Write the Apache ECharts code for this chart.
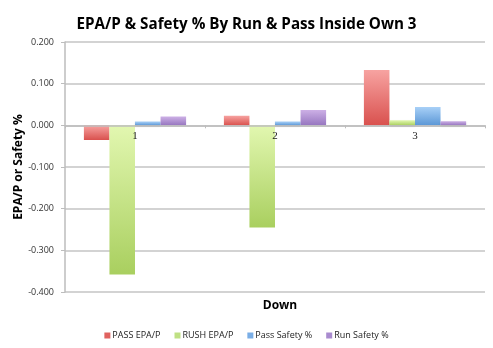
<!DOCTYPE html>
<html><head><meta charset="utf-8">
<script src="https://cdn.jsdelivr.net/npm/echarts@6/dist/echarts.min.js"></script>
<style>html,body{margin:0;padding:0;background:#fff}#c{width:493px;height:348px}</style>
</head><body><div id="c"></div>
<script>
const categories = ['1', '2', '3'];
const passEPA = [-0.035, 0.023, 0.133];
const rushEPA = [-0.358, -0.245, 0.012];
const passSafety = [0.009, 0.009, 0.044];
const runSafety = [0.021, 0.037, 0.010];
const yTicks = { min: -0.4, max: 0.2, interval: 0.1 };

function grad(top, bottom) {
  return new echarts.graphic.LinearGradient(0, 0, 0, 1, [
    { offset: 0, color: top }, { offset: 1, color: bottom }
  ]);
}
const seriesDefs = [
  { name: 'PASS EPA/P', data: passEPA, c: ['#f7a3a1', '#d9514e'], lc: '#e0625f' },
  { name: 'RUSH EPA/P', data: rushEPA, c: ['#e2f7b0', '#a9cf5f'], lc: '#bfe083' },
  { name: 'Pass Safety %', data: passSafety, c: ['#a8d0f7', '#5b97d6'], lc: '#7aaee6' },
  { name: 'Run Safety %', data: runSafety, c: ['#cdb0e6', '#9676bf'], lc: '#a98bcf' }
];
const font = 'Open Sans';
const chart = echarts.init(document.getElementById('c'), null, { renderer: 'canvas' });
const option = {
  animation: false,
  backgroundColor: '#fff',
  title: [
    { text: 'EPA/P & Safety % By Run & Pass Inside Own 3', left: 'center', top: 12,
      textStyle: { fontFamily: font, fontWeight: 'bold', fontSize: 15.2, color: '#000' } },
    { text: 'Down', left: 275, top: 295, textAlign: 'center',
      textStyle: { fontFamily: font, fontWeight: 'bold', fontSize: 12, color: '#000' } }
  ],
  legend: {
    bottom: 3, left: 'center', itemWidth: 6, itemHeight: 6, itemGap: 14,
    icon: 'rect',
    textStyle: { fontFamily: font, fontSize: 9, color: '#222', padding: [0, 0, 0, -3] },
    data: seriesDefs.map(s => ({ name: s.name, itemStyle: { color: s.lc } }))
  },
  grid: { left: 65, right: 8, top: 42, bottom: 56 },
  xAxis: {
    type: 'category', data: categories, offset: 0, z: 10,
    axisLine: { onZero: false, lineStyle: { color: '#bdbdbd', width: 1.5 } },
    axisTick: { show: true, length: 3, lineStyle: { color: '#bdbdbd' } },
    axisLabel: { fontFamily: 'Liberation Serif', fontSize: 11, color: '#222', margin: 5 },
    splitLine: { show: false }
  },
  yAxis: {
    type: 'value', min: yTicks.min, max: yTicks.max, interval: yTicks.interval,
    name: 'EPA/P or Safety %', nameLocation: 'middle', nameGap: 40, nameRotate: 90,
    nameMoveOverlap: false,
    nameTextStyle: { fontFamily: font, fontWeight: 'bold', fontSize: 12, color: '#000' },
    axisLine: { show: true, lineStyle: { color: '#bdbdbd', width: 1.5 } },
    axisTick: { show: true, length: 4, lineStyle: { color: '#bdbdbd' } },
    axisLabel: { fontFamily: font, fontSize: 9, color: '#333', margin: 11,
      formatter: v => v.toFixed(3) },
    splitLine: { lineStyle: { color: '#c4c4c4', width: 1.5 } }
  },
  series: seriesDefs.map(s => ({
    name: s.name, type: 'bar', data: s.data,
    barGap: '0%', barCategoryGap: '27%',
    itemStyle: { color: grad(s.c[0], s.c[1]), shadowColor: 'rgba(0,0,0,0.15)', shadowBlur: 2, shadowOffsetY: 1 }
  }))
};
chart.setOption(option);
// move the category axis (line, ticks, labels) up to the zero line
const yZero = chart.convertToPixel({ yAxisIndex: 0 }, 0);
const yBottom = chart.convertToPixel({ yAxisIndex: 0 }, yTicks.min);
chart.setOption({ xAxis: { offset: -(yBottom - yZero) } });
</script>
</body></html>
